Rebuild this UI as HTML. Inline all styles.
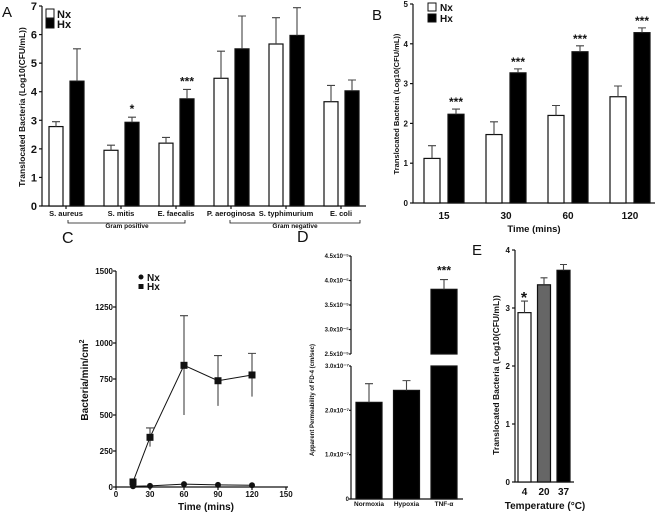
<!DOCTYPE html>
<html><head><meta charset="utf-8"><style>
body{margin:0;background:#fff}
svg{display:block;font-family:"Liberation Sans",Arial,sans-serif}
</style></head><body>
<svg id="fig" width="661" height="512" viewBox="0 0 661 512">
<g id="gA"></g>
<g id="gB"></g>
<g id="gC"></g>
<g id="gD"></g>
<g id="gE"></g>
</svg>
<script>
// Panel A data
const aCats=["S. aureus","S. mitis","E. faecalis","P. aeroginosa","S. typhimurium","E. coli"];
const aNx=[2.78,1.95,2.2,4.47,5.67,3.65];
const aNxErr=[0.17,0.18,0.2,0.95,0.92,0.57];
const aHx=[4.37,2.93,3.75,5.5,5.97,4.03];
const aHxErr=[1.13,0.18,0.33,1.15,0.97,0.38];
const aSig=["","*","***","","",""];
const aTicks=[0,1,2,3,4,5,6,7];
// Panel B data
const bCats=["15","30","60","120"];
const bNx=[1.12,1.72,2.2,2.67];
const bNxErr=[0.32,0.32,0.25,0.27];
const bHx=[2.23,3.27,3.8,4.28];
const bHxErr=[0.13,0.1,0.15,0.12];
const bTicks=[0,1,2,3,4,5];
// Panel C data
const cTimes=[15,30,60,90,120];
const cHx=[35,345,845,738,778];
const cHxErr=[0,65,345,175,150];
const cNx=[5,8,20,15,12];
const cYTicks=[0,250,500,750,1000,1250,1500];
const cXTicks=[0,30,60,90,120,150];
// Panel D data
const dCats=["Normoxia","Hypoxia","TNF-α"];
const dLow=[2.18,2.45,3.0];
const dLowErr=[0.42,0.22,0];
const dHigh=[0,0,3.82];
const dHighErr=[0,0,0.2];
const dLowTicks=["0","1.0","2.0","3.0"];
const dHighTicks=["2.5","3.0","3.5","4.0","4.5"];
// Panel E data
const eCats=["4","20","37"];
const eVals=[2.92,3.4,3.65];
const eErr=[0.2,0.12,0.1];
const eTicks=[0,1,2,3,4];

const NS="http://www.w3.org/2000/svg";
function mk(parent,tag,attrs,text){const e=document.createElementNS(NS,tag);for(const k in attrs)e.setAttribute(k,attrs[k]);if(text!==undefined)e.textContent=text;parent.appendChild(e);return e;}
function bar(g,x,w,y0,y1,fill,name){const b=mk(g,"rect",{x:x,y:Math.min(y0,y1),width:w,height:Math.abs(y1-y0),fill:fill,stroke:"#111","stroke-width":1.2});

return b;}
function err(g,cx,yTop,yBar,cap,name){const p=mk(g,"path",{d:`M${cx},${yBar}V${yTop}M${cx-cap},${yTop}H${cx+cap}`,stroke:"#444","stroke-width":1.1,fill:"none"});

}
function txt(g,x,y,s,size,anchor,name,extra){const t=mk(g,"text",Object.assign({x:x,y:y,"font-size":size,"font-weight":"bold","text-anchor":anchor||"middle",fill:"#111"},extra||{}),s);

return t;}
function line(g,d,name,w){const p=mk(g,"path",{d:d,stroke:"#111","stroke-width":w||1.2,fill:"none"});

}

// ---------- Panel A ----------
(function(){const g=document.getElementById('gA');
const ax=42,y0=206,y7=6,yA=v=>y0-(y0-y7)*v/7;
txt(g,2,17,"A",15,"start","panel-label-a",{"font-weight":"normal"});
line(g,`M${ax},${y7}V${y0}H366`,"axes-a");
aTicks.forEach(t=>{line(g,`M${ax-3},${yA(t)}H${ax}`,"y-tick-a");txt(g,ax-5,yA(t)+4,String(t),11,"end","y-tick-label-a");});
txt(g,25,107,"Translocated  Bacteria (Log10(CFU/mL))",8.5,"middle","y-axis-title-a",{transform:"rotate(-90 25 107)"});
const bw=14;
aCats.forEach((c,i)=>{const gx=49+55*i;
bar(g,gx,bw,y0,yA(aNx[i]),"#fff","bar-nx-"+i);err(g,gx+bw/2,yA(aNx[i]+aNxErr[i]),yA(aNx[i]),4,"err-nx");
bar(g,gx+21,bw,y0,yA(aHx[i]),"#000","bar-hx-"+i);err(g,gx+21+bw/2,yA(aHx[i]+aHxErr[i]),yA(aHx[i]),4,"err-hx");
if(aSig[i])txt(g,gx+28,yA(aHx[i]+aHxErr[i])-4,aSig[i],12,"middle","sig-a");
line(g,`M${gx+17},${y0}v3`,"x-tick-a");
txt(g,gx+17,216,c,7.5,"middle","x-tick-label-a");});
line(g,"M68,220V223H185V220","bracket-gram-positive",0.8);
txt(g,127,228,"Gram positive",6.5,"middle","gram-positive-label");
line(g,"M230,220V223H360V220","bracket-gram-negative",0.8);
txt(g,295,228,"Gram negative",6.5,"middle","gram-negative-label");
const l1=mk(g,"rect",{x:46,y:9,width:8,height:9,fill:"#fff",stroke:"#111"});
const l2=mk(g,"rect",{x:46,y:19,width:8,height:9,fill:"#000",stroke:"#111"});
txt(g,57,18,"Nx",11,"start","legend-nx");txt(g,57,28,"Hx",11,"start","legend-hx");
})();

// ---------- Panel B ----------
(function(){const g=document.getElementById('gB');
const ax=413,y0=203,y5=4,yB=v=>y0-(y0-y5)*v/5;
txt(g,372,20,"B",15,"start","panel-label-b",{"font-weight":"normal"});
line(g,`M${ax},${y5}V${y0}H655`,"axes-b");
bTicks.forEach(t=>{line(g,`M${ax-3},${yB(t)}H${ax}`,"y-tick-b");txt(g,ax-5,yB(t)+3,String(t),8,"end","y-tick-label-b");});
txt(g,399,104,"Translocated  Bacteria (Log10(CFU/mL))",7.5,"middle","y-axis-title-b",{transform:"rotate(-90 399 104)"});
bCats.forEach((c,i)=>{const gx=424+62*i;
bar(g,gx,16,y0,yB(bNx[i]),"#fff","bar-nx-"+c);err(g,gx+8,yB(bNx[i]+bNxErr[i]),yB(bNx[i]),4,"err-nx");
bar(g,gx+24,16,y0,yB(bHx[i]),"#000","bar-hx-"+c);err(g,gx+32,yB(bHx[i]+bHxErr[i]),yB(bHx[i]),4,"err-hx");
txt(g,gx+32,yB(bHx[i]+bHxErr[i])-3,"***",12,"middle","sig-b");
txt(g,gx+20,219,c,10,"middle","x-tick-label-b");});
txt(g,534,232,"Time (mins)",9.5,"middle","x-axis-title-b");
const l1=mk(g,"rect",{x:428,y:3,width:8,height:8,fill:"#fff",stroke:"#111"});
const l2=mk(g,"rect",{x:428,y:14,width:8,height:8,fill:"#000",stroke:"#111"});
txt(g,440,11,"Nx",10,"start","legend-nx");txt(g,440,22,"Hx",10,"start","legend-hx");
})();

// ---------- Panel C ----------
(function(){const g=document.getElementById('gC');
const ax=116,y0=487,yTop=271,xC=t=>ax+t*(286-ax)/150,yC=v=>y0-(y0-yTop)*v/1500;
txt(g,62,243,"C",16,"start","panel-label-c",{"font-weight":"normal"});
line(g,`M${ax},${yTop}V${y0}H288`,"axes-c");
cYTicks.forEach(t=>{line(g,`M${ax-3},${yC(t)}H${ax}`,"y-tick-c");txt(g,ax-3,yC(t)+3,String(t),8,"end","y-tick-label-c");});
cXTicks.forEach(t=>{line(g,`M${xC(t)},${y0}v3`,"x-tick-c");txt(g,xC(t),497,String(t),8,"middle","x-tick-label-c");});
txt(g,206,510,"Time (mins)",10,"middle","x-axis-title-c");
const yt=txt(g,88,380,"Bacteria/min/cm",10,"middle","y-axis-title-c",{transform:"rotate(-90 88 380)"});
const sup=mk(yt,"tspan",{dy:-4,"font-size":7},"2");


line(g,"M"+cTimes.map((t,i)=>xC(t)+","+yC(cNx[i])).join("L"),"line-nx",1);
line(g,"M"+cTimes.map((t,i)=>xC(t)+","+yC(cHx[i])).join("L"),"line-hx",1);
cTimes.forEach((t,i)=>{if(cHxErr[i])err(g,xC(t),yC(cHx[i]+cHxErr[i]),yC(cHx[i]-cHxErr[i]),4,"err-hx");
const c=mk(g,"circle",{cx:xC(t),cy:yC(cNx[i]),r:3,fill:"#111"});
const s=mk(g,"rect",{x:xC(t)-3.5,y:yC(cHx[i])-3.5,width:7,height:7,fill:"#111"});});
const lc=mk(g,"circle",{cx:141,cy:277,r:2.5,fill:"#111"});
const ls=mk(g,"rect",{x:138.5,y:284,width:5,height:5,fill:"#111"});
txt(g,147,281,"Nx",10,"start","legend-nx");txt(g,147,290,"Hx",10,"start","legend-hx");
})();

// ---------- Panel D ----------
(function(){const g=document.getElementById('gD');
const ax=351,y0=499,yL3=366,yH25=354,yH45=256;
const yLo=v=>y0-(y0-yL3)*v/3,yHi=v=>yH25-(yH25-yH45)*(v-2.5)/2;
txt(g,297,242,"D",16,"start","panel-label-d",{"font-weight":"normal"});
line(g,`M${ax},${yH45}V${yH25}M${ax},${yL3}V${y0}H463`,"axes-d");
dLowTicks.forEach((s,i)=>{const y=yLo(i);line(g,`M${ax-2},${y}H${ax}`,"y-tick-d");txt(g,ax-2,y+2,i?s+"x10⁻⁷":s,6,"end","y-tick-label-d");});
dHighTicks.forEach((s,i)=>{const y=yHi(2.5+0.5*i);line(g,`M${ax-2},${y}H${ax}`,"y-tick-d");txt(g,ax-2,y+2,s+"x10⁻⁵",6,"end","y-tick-label-d");});
txt(g,314,400,"Apparent Permeability of FD-4 (cm/sec)",6,"middle","y-axis-title-d",{transform:"rotate(-90 314 400)"});
dCats.forEach((c,i)=>{const x=356+37.5*i,w=26;
bar(g,x,w,y0,yLo(dLow[i]),"#000","bar-low-"+i);
if(dLowErr[i])err(g,x+w/2,yLo(dLow[i]+dLowErr[i]),yLo(dLow[i]),4,"err-d");
if(dHigh[i]){bar(g,x,w,yH25,yHi(dHigh[i]),"#000","bar-high-"+i);err(g,x+w/2,yHi(dHigh[i]+dHighErr[i]),yHi(dHigh[i]),4,"err-d");
txt(g,x+w/2,yHi(dHigh[i]+dHighErr[i])-5,"***",12,"middle","sig-d");}
txt(g,x+w/2,506,c,6.5,"middle","x-tick-label-d");});
})();

// ---------- Panel E ----------
(function(){const g=document.getElementById('gE');
const ax=515,y0=482,y4=250,yE=v=>y0-(y0-y4)*v/4;
txt(g,472,255,"E",15,"start","panel-label-e",{"font-weight":"normal"});
line(g,`M${ax},${y4}V${y0}H574`,"axes-e");
eTicks.forEach(t=>{line(g,`M${ax-3},${yE(t)}H${ax}`,"y-tick-e");txt(g,ax-5,yE(t)+3,String(t),8,"end","y-tick-label-e");});
txt(g,499,375,"Translocated Bacteria  (Log10(CFU/mL))",8.5,"middle","y-axis-title-e",{transform:"rotate(-90 499 375)"});
const fills=["#fff","#666","#000"];
eCats.forEach((c,i)=>{const x=518+19.5*i,w=13;
bar(g,x,w,y0,yE(eVals[i]),fills[i],"bar-"+c+"c");err(g,x+w/2,yE(eVals[i]+eErr[i]),yE(eVals[i]),3.5,"err-e");
txt(g,x+w/2,495,c,10,"middle","x-tick-label-e");});
txt(g,524,yE(eVals[0]+eErr[0])+2,"*",16,"middle","sig-e");
txt(g,545,509,"Temperature (°C)",10,"middle","x-axis-title-e");
})();
</script>
</body></html>
